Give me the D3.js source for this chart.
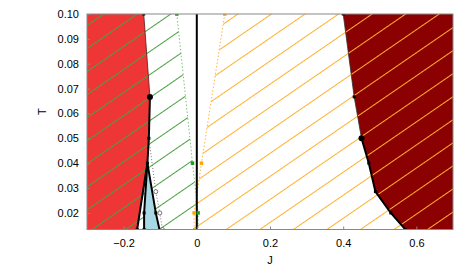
<!DOCTYPE html>
<html>
<head>
<meta charset="utf-8">
<script src="https://cdn.jsdelivr.net/npm/d3@7"></script>
<style>
  body { margin: 0; background: #fff; }
  text { font-family: "Liberation Sans", Arial, sans-serif; }
</style>
</head>
<body>
<div id="chart"></div>
<script>
// data: J (x) and T (y) along each boundary
const xTicks = [-0.2, 0, 0.2, 0.4, 0.6];
const yTicks = [0.02, 0.03, 0.04, 0.05, 0.06, 0.07, 0.08, 0.09, 0.10];

// left (red) boundary, top to bottom
const redEdge = [
  {J: -0.145, T: 0.10},
  {J: -0.128, T: 1 / 15},
  {J: -0.131, T: 0.05},
  {J: -0.135, T: 0.04},
  {J: -0.163, T: 1 / 75}
];
// small triangle under the red edge
const midEdge = [
  {J: -0.135, T: 0.04},
  {J: -0.144, T: 0.02},
  {J: -0.144, T: 1 / 75}
];
const triEdge = [
  {J: -0.135, T: 0.04},
  {J: -0.112, T: 0.02},
  {J: -0.102, T: 1 / 75}
];
const grayEdge = [
  {J: -0.131, T: 0.05},
  {J: -0.112, T: 1 / 35},
  {J: -0.101, T: 0.02},
  {J: -0.094, T: 1 / 75}
];
// right (dark red) boundary
const darkEdge = [
  {J: 0.400, T: 0.10},
  {J: 0.430, T: 1 / 15},
  {J: 0.450, T: 0.05},
  {J: 0.470, T: 0.04},
  {J: 0.488, T: 1 / 35},
  {J: 0.530, T: 0.02},
  {J: 0.570, T: 1 / 75}
];
// hatched region edges
const greenEdge = [
  {J: -0.0546, T: 0.10},
  {J: -0.0117, T: 0.04},
  {J: 0.0036, T: 0.02}
];
const orangeEdge = [
  {J: 0.0765, T: 0.10},
  {J: 0.0128, T: 0.04},
  {J: -0.0074, T: 0.02}
];

const xMin = -0.3, xMax = 0.7, yMin = 1 / 75, yMax = 0.10;

const svgWidth = 474, svgHeight = 267;
const margin = {top: 14, right: 21, bottom: 37.5, left: 87};
const width = svgWidth - margin.left - margin.right;
const height = svgHeight - margin.top - margin.bottom;

const svg = d3.select("#chart").append("svg")
  .attr("width", svgWidth)
  .attr("height", svgHeight);

const defs = svg.append("defs");
function hatch(id, color) {
  const p = defs.append("pattern")
    .attr("id", id)
    .attr("patternUnits", "userSpaceOnUse")
    .attr("width", 10)
    .attr("height", 19)
    .attr("patternTransform", "rotate(-34.5)");
  p.append("line")
    .attr("x1", 0).attr("x2", 10)
    .attr("y1", 9.5).attr("y2", 9.5)
    .attr("stroke", color)
    .attr("stroke-width", 1);
}
hatch("hGreen", "#48a040");
hatch("hOrange", "#ffb02e");

defs.append("clipPath").attr("id", "plotClip")
  .append("rect").attr("width", width).attr("height", height);

const g = svg.append("g")
  .attr("transform", `translate(${margin.left}, ${margin.top})`);

const x = d3.scaleLinear().domain([xMin, xMax]).range([0, width]);
const y = d3.scaleLinear().domain([yMin, yMax]).range([height, 0]);

const line = d3.line().x(d => x(d.J)).y(d => y(d.T));

const plot = g.append("g").attr("clip-path", "url(#plotClip)");

// filled regions
plot.append("path")
  .attr("d", line([{J: xMin, T: yMax}, ...redEdge, {J: xMin, T: yMin}]) + "Z")
  .attr("fill", "#ef3636");

plot.append("path")
  .attr("d", line([...darkEdge, {J: xMax, T: yMin}, {J: xMax, T: yMax}]) + "Z")
  .attr("fill", "#8b0000");

const gLast = greenEdge[greenEdge.length - 1];
plot.append("path")
  .attr("d", line([{J: xMin, T: yMax}, ...greenEdge, {J: gLast.J, T: yMin}, {J: xMin, T: yMin}]) + "Z")
  .attr("fill", "url(#hGreen)");

const oLast = orangeEdge[orangeEdge.length - 1];
plot.append("path")
  .attr("d", line([...orangeEdge, {J: oLast.J, T: yMin}, {J: xMax, T: yMin}, {J: xMax, T: yMax}]) + "Z")
  .attr("fill", "url(#hOrange)");

plot.append("path")
  .attr("d", line([...midEdge, ...triEdge.slice().reverse()]) + "Z")
  .attr("fill", "#a8d8e4");

// boundary lines
plot.append("path")
  .attr("d", line(greenEdge.concat([{J: gLast.J, T: yMin}])))
  .attr("fill", "none").attr("stroke", "#7cc07c")
  .attr("stroke-width", 1).attr("stroke-dasharray", "1.5,2");
plot.append("path")
  .attr("d", line(orangeEdge.concat([{J: oLast.J, T: yMin}])))
  .attr("fill", "none").attr("stroke", "#ffb444")
  .attr("stroke-width", 1).attr("stroke-dasharray", "1.5,2");

plot.append("path")
  .attr("d", line(grayEdge))
  .attr("fill", "none").attr("stroke", "#777")
  .attr("stroke-width", 1).attr("stroke-dasharray", "1,2");

plot.append("path")
  .attr("d", line(redEdge.slice(0, 2)))
  .attr("fill", "none").attr("stroke", "#5a1a1a").attr("stroke-width", 0.8);
plot.append("path")
  .attr("d", line(redEdge.slice(1)))
  .attr("fill", "none").attr("stroke", "#000").attr("stroke-width", 2);
plot.append("path")
  .attr("d", line(midEdge))
  .attr("fill", "none").attr("stroke", "#000").attr("stroke-width", 2);
plot.append("path")
  .attr("d", line(triEdge))
  .attr("fill", "none").attr("stroke", "#000").attr("stroke-width", 2);

plot.append("path")
  .attr("d", line(darkEdge.slice(0, 3)))
  .attr("fill", "none").attr("stroke", "#333").attr("stroke-width", 0.8);
plot.append("path")
  .attr("d", line(darkEdge.slice(2)))
  .attr("fill", "none").attr("stroke", "#000").attr("stroke-width", 2);

// J = 0 line
plot.append("line")
  .attr("x1", x(0)).attr("x2", x(0))
  .attr("y1", 0).attr("y2", height)
  .attr("stroke", "#000").attr("stroke-width", 2);

// markers
function squares(data, color, s) {
  plot.append("g").selectAll("rect")
    .data(data).enter().append("rect")
    .attr("x", d => x(d.J) - s / 2)
    .attr("y", d => y(d.T) - s / 2)
    .attr("width", s).attr("height", s)
    .attr("fill", color);
}
squares(redEdge.filter((d, i) => i !== 1), "#000", 3);
squares(midEdge.slice(1), "#000", 3);
squares(triEdge.slice(1, 2), "#000", 3);
squares(darkEdge.filter((d, i) => i !== 2), "#000", 3);
squares(greenEdge, "#1c9a1c", 3.5);
squares(orangeEdge, "#ffa500", 3.5);

plot.append("g").selectAll("circle")
  .data([redEdge[1], darkEdge[2]]).enter().append("circle")
  .attr("cx", d => x(d.J)).attr("cy", d => y(d.T))
  .attr("r", 3).attr("fill", "#000");

plot.append("g").selectAll("circle")
  .data(grayEdge.slice(1)).enter().append("circle")
  .attr("cx", d => x(d.J)).attr("cy", d => y(d.T))
  .attr("r", 2).attr("fill", "#fff")
  .attr("stroke", "#555").attr("stroke-width", 0.8);

// border and ticks
g.append("rect")
  .attr("width", width).attr("height", height)
  .attr("fill", "none").attr("stroke", "#888").attr("stroke-width", 1);

const xAxis = g.append("g")
  .attr("transform", `translate(0, ${height})`)
  .call(d3.axisBottom(x).tickValues(xTicks).tickSizeInner(-3).tickSizeOuter(0).tickPadding(7)
    .tickFormat(d3.format(".1~f")));
const yAxis = g.append("g")
  .call(d3.axisLeft(y).tickValues(yTicks).tickSizeInner(-3).tickSizeOuter(0).tickPadding(8)
    .tickFormat(d3.format(".2f")));
[xAxis, yAxis].forEach(a => {
  a.select(".domain").remove();
  a.selectAll("line").attr("stroke", "#888");
  a.selectAll("text").style("font-size", "11px").attr("fill", "#000")
    .style("font-family", "'Liberation Sans', Arial, sans-serif");
});
xAxis.selectAll("text").attr("dy", "0.95em");

g.append("text")
  .attr("x", width / 2).attr("y", height + 34)
  .attr("text-anchor", "middle")
  .style("font-size", "11px")
  .text("J");

g.append("text")
  .attr("transform", `translate(${-45}, ${height / 2 - 10}) rotate(-90)`)
  .attr("text-anchor", "middle")
  .attr("dy", "0.35em")
  .style("font-size", "11px")
  .text("T");
</script>
</body>
</html>
